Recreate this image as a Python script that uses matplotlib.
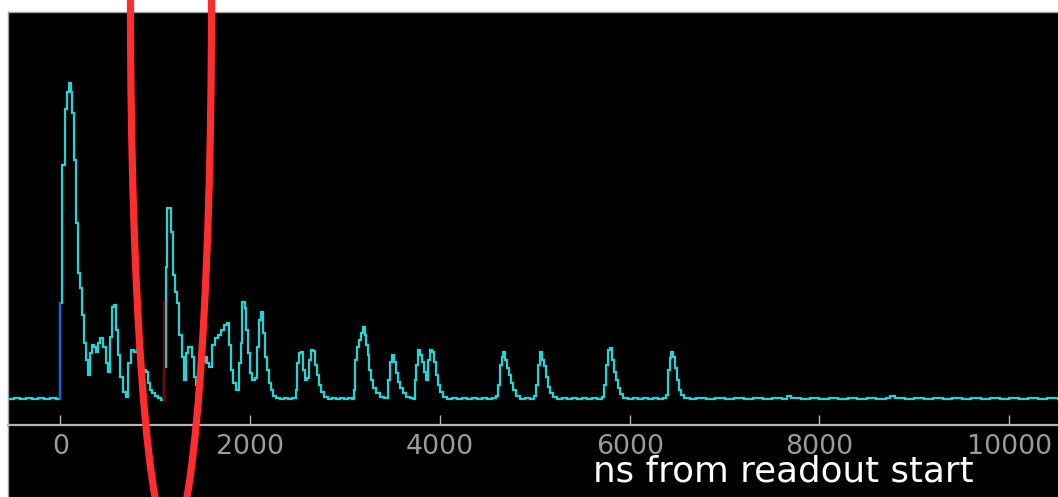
import matplotlib
matplotlib.use("Agg")
import matplotlib.pyplot as plt
from matplotlib.patches import Ellipse

# ---- data (time in ns, amplitude in arbitrary units, baseline = 0) ----
time_ns = [
    -553, -490, -427, -364, -300, -237, -174, -111, -47,
    0, 21, 47, 69, 90, 111, 126, 142, 163, 184, 206, 227, 248, 269, 290, 311, 332, 353, 374, 395,
    416, 448, 480, 501, 522, 543, 564, 585, 606, 627, 659, 690, 711, 743, 775, 806, 838, 870, 901,
    922, 943, 964, 996, 1028, 1059,
    1091, 1112, 1128, 1165, 1186, 1207, 1228, 1249, 1281, 1302, 1323, 1344, 1386, 1407, 1428, 1460,
    1491, 1523, 1544, 1565, 1597, 1628, 1660, 1692, 1723, 1755, 1776, 1797, 1818, 1850, 1881, 1902,
    1918, 1945, 1960, 1976, 1997, 2018, 2050, 2071, 2092, 2113, 2134, 2155, 2177, 2198, 2219, 2240,
    2271, 2314, 2356, 2398, 2440, 2482, 2498, 2514, 2535, 2556, 2577, 2598, 2619, 2640, 2661, 2682,
    2704, 2725, 2746, 2777, 2819, 2862, 2904, 2946, 2988, 3030, 3072,
    3093, 3109, 3125, 3146, 3167, 3188, 3209, 3225, 3241, 3257, 3273, 3294, 3325, 3368, 3410,
    3452, 3473, 3494, 3515, 3536, 3557, 3578, 3610, 3642, 3684, 3715,
    3736, 3752, 3768, 3789, 3810, 3831, 3852, 3873, 3895, 3916, 3937, 3958, 3979, 4000, 4032,
    4074, 4126, 4179, 4232, 4284, 4337, 4390, 4443, 4495, 4548,
    4590, 4611, 4632, 4653, 4669, 4685, 4706, 4727, 4748, 4769, 4801, 4843, 4896, 4949,
    4991, 5012, 5033, 5054, 5075, 5096, 5117, 5138, 5159, 5191,
    5233, 5286, 5339, 5391, 5444, 5497, 5549, 5602, 5655,
    5708, 5728, 5750, 5771, 5792, 5813, 5834, 5855, 5876, 5897, 5929,
    5981, 6034, 6087, 6140, 6192, 6245, 6298, 6350,
    6382, 6403, 6424, 6440, 6456, 6477, 6498, 6519, 6540, 6572, 6635,
    6700, 6800, 6900, 7000, 7100, 7200, 7300, 7400, 7500, 7600, 7660, 7700, 7800, 7900, 8000,
    8100, 8200, 8300, 8400, 8500, 8600, 8700, 8740, 8800, 8900, 9000, 9100, 9200, 9300, 9400,
    9500, 9600, 9700, 9800, 9900, 10000, 10100, 10200, 10300, 10400, 10514,
]
amplitude = [
    0, 1, 0, 1, 0, 1, 0, 1, 0,
    96, 234, 290, 307, 316, 307, 286, 239, 176, 126, 111, 84, 56, 39, 24, 46, 54, 52, 47, 56,
    61, 52, 36, 27, 62, 92, 94, 69, 44, 22, 7, 2, 36, 49, 47, 50, 39, 29, 27,
    16, 9, 6, 3, 1, -1,
    32, 132, 191, 167, 124, 107, 96, 64, 42, 19, 46, 52, 42, 22, 14, 24,
    37, 42, 36, 32, 54, 61, 64, 69, 74, 76, 54, 29, 16, 9, 36, 56,
    97, 91, 69, 46, 26, 19, 21, 52, 79, 87, 66, 42, 29, 16, 9, 3,
    1, 0, 1, 0, 1, 9, 36, 46, 47, 29, 19, 21, 39, 49, 48, 34,
    24, 14, 7, 2, 0, 1, 0, 1, 0, 1, 0,
    9, 39, 52, 59, 66, 72, 64, 54, 44, 29, 19, 11, 6, 2, 1,
    19, 37, 44, 37, 26, 17, 11, 6, 2, 1, 0,
    19, 34, 49, 44, 37, 27, 19, 39, 49, 47, 37, 24, 14, 7, 2,
    0, 1, 0, 1, 0, 1, 0, 1, 0, 1,
    3, 14, 34, 42, 47, 39, 31, 24, 16, 9, 3, 0, 1, 0,
    3, 14, 34, 47, 39, 33, 22, 12, 6, 2,
    0, 1, 0, 1, 0, 1, 0, 1, 0,
    2, 14, 34, 49, 51, 39, 27, 19, 11, 5, 1,
    0, 1, 0, 1, 0, 1, 0, 1,
    4, 29, 41, 47, 42, 31, 19, 9, 4, 1, 0,
    1, 0, 1, 0, 1, 0, 1, 0, 1, 0, 3, 1, 0, 1, 0,
    1, 0, 1, 0, 1, 0, 1, 3, 1, 0, 1, 0, 1, 0, 1,
    0, 1, 0, 1, 0, 1, 0, 1, 0, 1, 0,
]

trigger_time = 0          # blue rising edge
trigger_span = [0, 96]
marker_time = 1091        # dark-red marker
marker_span = [-1, 97]

xtick_values = [0, 2000, 4000, 6000, 8000, 10000]
xlabel_text = "ns from readout start"

# ---- figure ----
W, H = 1058, 497
fig = plt.figure(figsize=(W / 100, H / 100), dpi=100, facecolor="white")
ax = fig.add_axes([8 / W, 0, (W - 8) / W, 485 / H])
ax.set_facecolor("black")

ax.plot(time_ns, amplitude, color="#1fd6d6", lw=1.6, drawstyle="steps-post",
        solid_joinstyle="miter", zorder=3)
ax.plot([trigger_time, trigger_time], trigger_span, color="#1e5fe0", lw=1.6, zorder=4)
ax.plot([marker_time, marker_time], marker_span, color="#7a0000", lw=1.6, zorder=4)

ax.set_xlim(-553, 10514)
ax.set_ylim(-98, 387)

ax.spines["bottom"].set_position(("data", -26))
ax.spines["bottom"].set_color("#b4b4b4")
ax.spines["bottom"].set_linewidth(1.6)
ax.spines["right"].set_visible(False)
for s in ("top", "left"):
    ax.spines[s].set_color("#a0a0a0")
    ax.spines[s].set_linewidth(1.0)

ax.set_yticks([])
ax.set_xticks(xtick_values)
ax.set_xticklabels([str(v) for v in xtick_values])
ax.tick_params(axis="x", direction="in", length=7.5, width=1.0, color="#b4b4b4",
               labelcolor="#9a9a9a", labelsize=19.3, pad=6.5)

fig.text(593 / W, 1 - 482 / H, xlabel_text, color="white", fontsize=25.7,
         ha="left", va="baseline")

# hand-drawn red ellipse annotation
ell = Ellipse((171 / W, (H - 6.6) / H), width=81 / W, height=1068 / H,
              transform=fig.transFigure, fill=False, edgecolor="#ff2d2d",
              linewidth=5.2, zorder=10, clip_on=False)
fig.add_artist(ell)

fig.savefig("out.png", dpi=100, facecolor="white")
